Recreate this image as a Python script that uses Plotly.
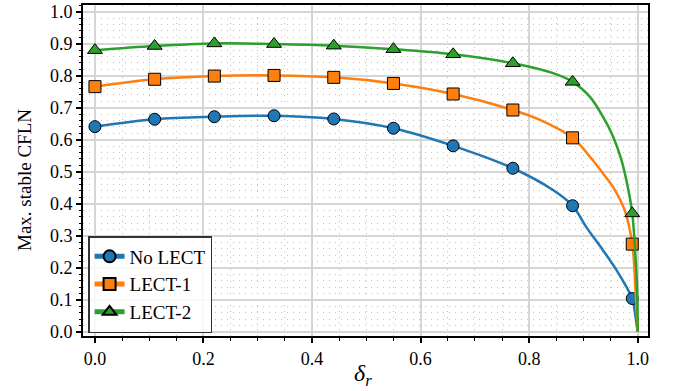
import plotly.graph_objects as go

# Marker positions (delta_r) and values
delta_r = [0.0, 0.11, 0.22, 0.33, 0.44, 0.55, 0.66, 0.77, 0.88, 0.99]
no_lect = [0.641, 0.664, 0.672, 0.675, 0.665, 0.636, 0.581, 0.511, 0.394, 0.104]
lect_1 = [0.766, 0.789, 0.799, 0.801, 0.795, 0.776, 0.743, 0.693, 0.606, 0.274]
lect_2 = [0.880, 0.893, 0.901, 0.899, 0.894, 0.883, 0.867, 0.839, 0.781, 0.370]

# Extra points (line only, no markers)
no_lect_curve_x = [0.844, 0.905, 0.936, 0.961, 0.979, 0.996, 1.0]
no_lect_curve_y = [0.443, 0.328, 0.255, 0.193, 0.141, 0.047, 0.0]
lect_1_curve_x = [0.820, 0.912, 0.936, 0.958, 0.976, 0.996, 1.0]
lect_1_curve_y = [0.662, 0.547, 0.495, 0.443, 0.380, 0.130, 0.0]
lect_2_curve_x = [0.844, 0.912, 0.936, 0.955, 0.970, 0.982, 0.996, 0.999, 1.0]
lect_2_curve_y = [0.808, 0.734, 0.672, 0.609, 0.537, 0.450, 0.234, 0.130, 0.0]

names = ["No LECT", "LECT-1", "LECT-2"]
colors = ["#1f77b4", "#ff7f0e", "#2ca02c"]
symbols = ["circle", "square", "triangle-up"]

x_title = "<i>δ</i><sub><i>r</i></sub>"
y_title = "Max. stable CFLN"

FONT = "Liberation Serif"


def merge(xm, ym, xt, yt):
    pts = sorted(list(zip(xm, ym)) + list(zip(xt, yt)))
    return [p[0] for p in pts], [p[1] for p in pts]


series = [
    (no_lect, no_lect_curve_x, no_lect_curve_y),
    (lect_1, lect_1_curve_x, lect_1_curve_y),
    (lect_2, lect_2_curve_x, lect_2_curve_y),
]

fig = go.Figure()
for i, (ym, tx, ty) in enumerate(series):
    cx, cy = merge(delta_r, ym, tx, ty)
    fig.add_trace(go.Scatter(x=cx, y=cy, mode="lines",
                             line=dict(color=colors[i], width=2.5, shape="spline", smoothing=1.0),
                             showlegend=False, hoverinfo="skip"))
    fig.add_trace(go.Scatter(x=delta_r, y=ym, mode="markers",
                             marker=dict(color=colors[i], symbol=symbols[i], size=12 if i < 2 else 13,
                                         line=dict(color="black", width=1)),
                             showlegend=False))
for i in range(3):
    fig.add_trace(go.Scatter(x=[None], y=[None], mode="lines+markers", name=names[i],
                             line=dict(color=colors[i], width=2.5),
                             marker=dict(color=colors[i], symbol=symbols[i], size=12,
                                         line=dict(color="black", width=1))))

axis_common = dict(
    showline=True, linecolor="black", linewidth=2, mirror=True,
    ticks="outside", ticklen=5, tickwidth=1.5, tickcolor="black",
    showgrid=True, gridcolor="#d6d6d6", gridwidth=1.8,
    zeroline=False, automargin=False,
    tickfont=dict(family=FONT, size=18, color="black"),
)
minor_common = dict(ticks="outside", tickcolor="black", tickwidth=1,
                    showgrid=True, gridcolor="#c4c4c4", griddash="1px,5px", gridwidth=1.3)

fig.update_xaxes(**axis_common, range=[-0.022, 1.019], dtick=0.2, tick0=0, tickformat=".1f",
                 minor=dict(dtick=0.05, ticklen=3, **minor_common))
fig.update_yaxes(**axis_common, range=[-0.013, 1.021], dtick=0.1, tick0=0, tickformat=".1f",
                 minor=dict(dtick=0.02, ticklen=2.5, **minor_common))

fig.add_annotation(text=x_title, xref="paper", yref="paper", x=(363 - 83) / 565, y=-(375 - 336) / 331,
                   showarrow=False, xanchor="center", yanchor="middle",
                   font=dict(family=FONT, size=24, color="black"))
fig.add_annotation(text=y_title, xref="paper", yref="paper", x=-(83 - 25) / 565, y=(336 - 180) / 331,
                   showarrow=False, xanchor="center", yanchor="middle", textangle=-90,
                   font=dict(family=FONT, size=19, color="black"))

fig.update_layout(
    width=677, height=391,
    margin=dict(l=83, r=29, t=5, b=55),
    plot_bgcolor="white", paper_bgcolor="white",
    font=dict(family=FONT, color="black"),
    legend=dict(x=0.009, y=0.009, xanchor="left", yanchor="bottom",
                bgcolor="rgba(255,255,255,0.85)", bordercolor="#333333", borderwidth=1.5,
                font=dict(family=FONT, size=19, color="black"),
                itemsizing="constant", tracegroupgap=0),
)

fig.write_html("out.html", config={"displayModeBar": False},
               post_script="document.body.style.margin='0';")
